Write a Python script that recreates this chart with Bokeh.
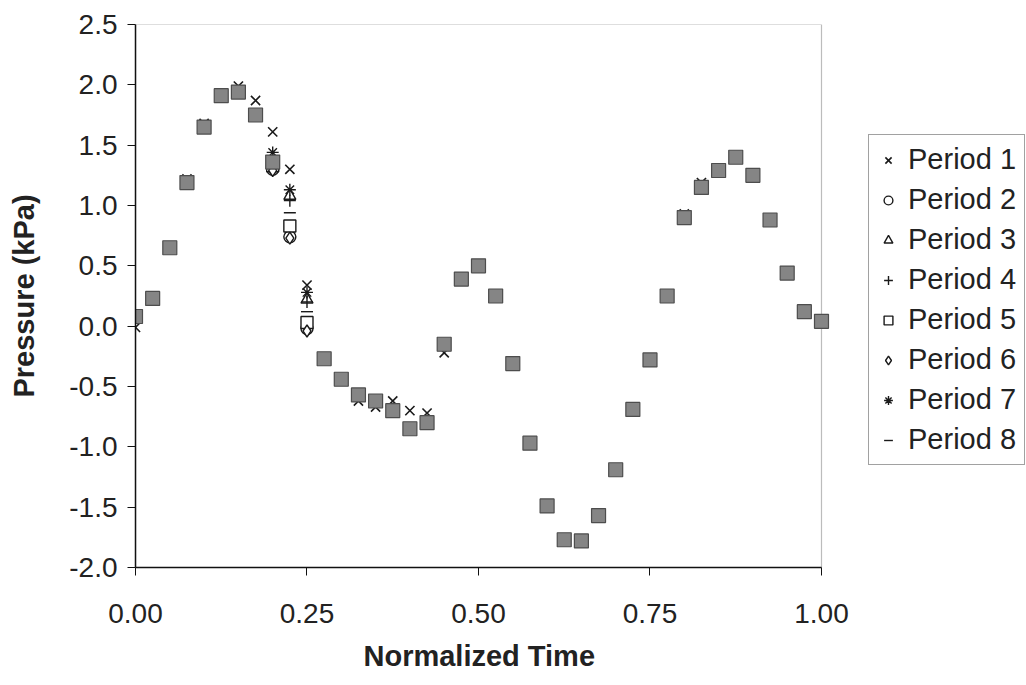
from bokeh.plotting import figure
from bokeh.models import Legend, LegendItem, FixedTicker, NumeralTickFormatter, BoxAnnotation, Title
from bokeh.embed import file_html
from bokeh.resources import INLINE

# ---- data -------------------------------------------------------------
t = [0.000, 0.025, 0.050, 0.075, 0.100, 0.125, 0.150, 0.175, 0.200, 0.225,
     0.250, 0.275, 0.300, 0.325, 0.350, 0.375, 0.400, 0.425, 0.450, 0.475,
     0.500, 0.525, 0.550, 0.575, 0.600, 0.625, 0.650, 0.675, 0.700, 0.725,
     0.750, 0.775, 0.800, 0.825, 0.850, 0.875, 0.900, 0.925, 0.950, 0.975,
     1.000]

# filled grey squares (overall / mean curve)
mean_p = [0.08, 0.23, 0.65, 1.19, 1.65, 1.91, 1.94, 1.75, 1.36, float("nan"),
          float("nan"), -0.27, -0.44, -0.57, -0.62, -0.70, -0.85, -0.80, -0.15, 0.39,
          0.50, 0.25, -0.31, -0.97, -1.49, -1.77, -1.78, -1.57, -1.19, -0.69,
          -0.28, 0.25, 0.90, 1.15, 1.29, 1.40, 1.25, 0.88, 0.44, 0.12,
          0.04]

period1 = [-0.01, 0.24, 0.66, 1.22, 1.68, 1.93, 1.99, 1.87, 1.61, 1.30,
           0.34, -0.27, -0.44, -0.62, -0.67, -0.62, -0.70, -0.72, -0.22, 0.39,
           0.50, 0.25, -0.31, -0.97, -1.49, -1.77, -1.78, -1.57, -1.19, -0.69,
           -0.28, 0.25, 0.93, 1.19, 1.29, 1.40, 1.25, 0.88, 0.44, 0.12,
           0.04]

# periods 2-8 differ visibly only around the transition
t_trans = [0.200, 0.225, 0.250]
period2 = [1.30, 0.74, -0.02]
period3 = [1.35, 1.08, 0.22]
period4 = [1.40, 1.04, 0.20]
period5 = [1.33, 0.83, 0.03]
period6 = [1.29, 0.73, -0.04]
period7 = [1.44, 1.13, 0.28]
period8 = [1.38, 0.94, 0.12]

labels = ["Period 1", "Period 2", "Period 3", "Period 4",
          "Period 5", "Period 6", "Period 7", "Period 8"]
y_ticks = [-2.0, -1.5, -1.0, -0.5, 0.0, 0.5, 1.0, 1.5, 2.0, 2.5]
x_ticks = [0.0, 0.25, 0.5, 0.75, 1.0]
x_min, x_max = 0.0, 1.0
y_min, y_max = -2.0, 2.5

# ---- figure -----------------------------------------------------------
# the frame is widened to the right so the legend (drawn inside it) is not
# clipped; the visible plot box (0..1) is drawn with a BoxAnnotation.
x_view_end = 1.2974
p = figure(width=1026, height=685, output_backend="svg", toolbar_location=None,
           x_range=(x_min, x_view_end), y_range=(y_min, y_max),
           min_border_left=135, min_border_right=1,
           min_border_top=24, min_border_bottom=118)
p.xgrid.visible = False
p.ygrid.visible = False
p.outline_line_color = None
p.background_fill_color = "white"
p.border_fill_color = "white"

font = "Liberation Sans"
for ax in (p.xaxis[0], p.yaxis[0]):
    ax.axis_line_color = "#111111"
    ax.axis_line_width = 1.5
    ax.major_tick_line_color = "#111111"
    ax.major_tick_in = 0
    ax.major_tick_out = 8
    ax.minor_tick_line_color = None
    ax.major_label_text_font = font
    ax.major_label_text_font_size = "28px"
    ax.major_label_text_color = "#222222"
    ax.axis_label_text_font = font
    ax.axis_label_text_font_size = "29px"
    ax.axis_label_text_font_style = "bold"
    ax.axis_label_text_color = "#222222"

p.xaxis.bounds = (x_min, x_max)
p.xaxis.ticker = FixedTicker(ticks=x_ticks)
p.yaxis.ticker = FixedTicker(ticks=y_ticks)
p.xaxis.formatter = NumeralTickFormatter(format="0.00")
p.yaxis.formatter = NumeralTickFormatter(format="0.0")
p.yaxis.axis_label = "Pressure (kPa)"
p.xaxis.major_label_standoff = 28
p.yaxis.major_label_standoff = 10
p.yaxis.axis_label_standoff = 26

# x axis title as a below-title, so it can sit centred under the 0..1 box
xtitle = Title(text="Normalized Time", align="left", offset=228,
               text_font=font, text_font_size="29px", text_font_style="bold",
               text_color="#222222", standoff=25)
p.add_layout(xtitle, "below")

box = BoxAnnotation(left=x_min, right=x_max, bottom=y_min, top=y_max,
                    fill_alpha=0, line_color="#222222", line_width=1.2,
                    level="underlay")
p.add_layout(box)

# ---- markers ----------------------------------------------------------
ink = "#1a1a1a"
r1 = p.scatter(t, period1, marker="x", size=13, line_color=ink, line_width=1.6)
markers = ["circle", "triangle", "cross", "square", "diamond", "asterisk", "dash"]
series = [period2, period3, period4, period5, period6, period7, period8]
renderers = [r1]
for m, vals in zip(markers, series):
    r = p.scatter(t_trans, vals, marker=m, size=12, line_color=ink,
                  fill_color="white", line_width=1.4)
    renderers.append(r)

p.scatter(t, mean_p, marker="square", size=14, fill_color="#858585",
          line_color="#4d4d4d", line_width=1.2)

items = [LegendItem(label=lab, renderers=[r]) for lab, r in zip(labels, renderers)]
legend = Legend(items=items, location=(733, 102))
legend.label_text_font = font
legend.label_text_font_size = "29px"
legend.label_text_color = "#222222"
legend.glyph_width = 22
legend.glyph_height = 30
legend.label_height = 30
legend.spacing = 7
legend.padding = 8
legend.margin = 0
legend.label_standoff = 9
legend.border_line_color = "#444444"
legend.border_line_width = 1
legend.background_fill_alpha = 0
p.add_layout(legend, "center")

open("out.html", "w").write(file_html(p, INLINE))
